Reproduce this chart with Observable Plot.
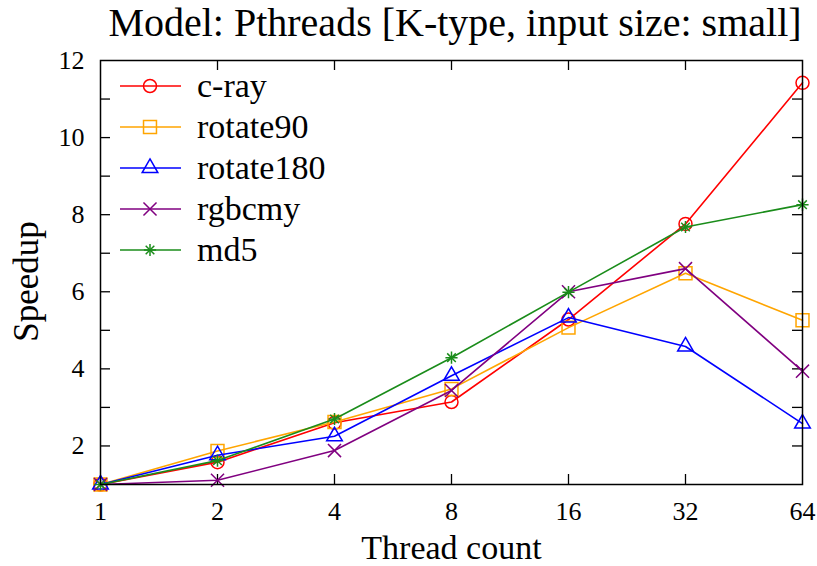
<!DOCTYPE html>
<html><head><meta charset="utf-8">
<script src="https://cdn.jsdelivr.net/npm/d3@7"></script>
<script src="https://cdn.jsdelivr.net/npm/@observablehq/plot@0.6"></script>
<style>
body{margin:0;background:#fff;font-family:"Liberation Serif",serif;}
#title{width:817px;height:45px;line-height:45px;font-size:40px;text-align:center;padding-left:93px;box-sizing:border-box;white-space:nowrap;color:#000;}
</style></head><body>
<div id="title">Model: Pthreads [K-type, input size: small]</div>
<div id="chart"></div>
<script>
const threads = [1, 2, 4, 8, 16, 32, 64];
const seriesNames = ["c-ray", "rotate90", "rotate180", "rgbcmy", "md5"];
const crayValues = [1, 1.58, 2.6, 3.14, 5.28, 7.76, 11.42];
const rotate90Values = [1, 1.87, 2.62, 3.48, 5.07, 6.48, 5.26];
const rotate180Values = [1, 1.76, 2.25, 3.82, 5.33, 4.58, 2.58];
const rgbcmyValues = [1, 1.11, 1.88, 3.44, 6.0, 6.6, 3.94];
const md5Values = [1, 1.62, 2.7, 4.29, 5.99, 7.68, 8.26];
const seriesColors = ["#ff0000", "#ffa500", "#0000ff", "#800080", "#1a8c1a"];
const yTicks = [2, 4, 6, 8, 10, 12];
const yMinorTicks = [2, 3, 4, 5, 6, 7, 8, 9, 10, 11];
const xInnerTicks = [2, 4, 8, 16, 32];
const xLabel = "Thread count";
const yLabel = "Speedup";

const allValues = [crayValues, rotate90Values, rotate180Values, rgbcmyValues, md5Values];
// symbol specs per series (list of [symbol, r])
const seriesSymbols = [
  [["circle", 6.5]],
  [["square", 7.3]],
  [["triangle", 5.8]],
  [["times", 6]],
  [["plus", 4], ["times", 4]]
];

const rows = [];
seriesNames.forEach((name, i) => {
  threads.forEach((t, j) => rows.push({series: name, threads: t, speedup: allValues[i][j]}));
});

const marks = [];
seriesNames.forEach((name, i) => {
  const data = rows.filter(d => d.series === name);
  marks.push(Plot.line(data, {x: "threads", y: "speedup", stroke: seriesColors[i], strokeWidth: 1.6}));
  seriesSymbols[i].forEach(([sym, r]) => {
    marks.push(Plot.dot(data, {x: "threads", y: "speedup", symbol: sym, r, stroke: seriesColors[i], strokeWidth: 1.5, fill: "none"}));
  });
});

const W = 817, H = 521, mL = 100, mR = 15, mT = 15, mB = 82;
const iw = W - mL - mR, ih = H - mT - mB;
const tick = 10;

const plot = Plot.plot({
  width: W, height: H,
  marginLeft: mL, marginRight: mR, marginTop: mT, marginBottom: mB,
  style: {fontFamily: "Liberation Serif", fontSize: "26px", background: "#fff", color: "#000"},
  x: {type: "log", base: 2, domain: [1, 64]},
  y: {domain: [1, 12]},
  marks: [
    Plot.tickY(yMinorTicks, {y: d => d, insetRight: iw - tick, stroke: "#000", strokeWidth: 1.3}),
    Plot.tickY(yMinorTicks, {y: d => d, insetLeft: iw - tick, stroke: "#000", strokeWidth: 1.3}),
    Plot.tickX(xInnerTicks, {x: d => d, insetTop: ih - tick, stroke: "#000", strokeWidth: 1.3}),
    Plot.tickX(xInnerTicks, {x: d => d, insetBottom: ih - tick, stroke: "#000", strokeWidth: 1.3}),
    Plot.axisX({ticks: threads, tickSize: 0, tickPadding: 17, tickFormat: d => String(d), fontSize: 26, label: null}),
    Plot.axisY({ticks: yTicks, tickSize: 0, tickPadding: 16, fontSize: 26, label: null}),
    Plot.text([xLabel], {text: d => d, frameAnchor: "bottom", lineAnchor: "middle", textAnchor: "middle", dy: 64, fontSize: 34}),
    Plot.text([yLabel], {text: d => d, frameAnchor: "left", lineAnchor: "middle", textAnchor: "middle", rotate: -90, dx: -74, dy: 9, fontSize: 35}),
    ...marks,
    Plot.frame({stroke: "#000", strokeWidth: 1.5})
  ]
});

// legend
const svg = d3.select(plot);
const lg = svg.append("g").attr("text-anchor", "start");
const rowY = [41, 82, 123, 164, 205];
const symMap = {circle: d3.symbolCircle, square: d3.symbolSquare, triangle: d3.symbolTriangle, times: d3.symbolTimes, plus: d3.symbolPlus};
seriesNames.forEach((name, i) => {
  const y = rowY[i];
  lg.append("line").attr("x1", 120).attr("x2", 181).attr("y1", y).attr("y2", y)
    .attr("stroke", seriesColors[i]).attr("stroke-width", 1.6);
  seriesSymbols[i].forEach(([sym, r]) => {
    lg.append("path").attr("d", d3.symbol(symMap[sym], Math.PI * r * r)())
      .attr("transform", `translate(150,${y})`)
      .attr("fill", "none").attr("stroke", seriesColors[i]).attr("stroke-width", 1.5);
  });
  lg.append("text").attr("x", 197).attr("y", y).attr("dy", "0.32em")
    .attr("text-anchor", "start")
    .attr("font-size", 34).attr("font-family", "Liberation Serif").attr("fill", "#000").text(name);
});

document.getElementById("chart").appendChild(plot);
</script>
</body></html>
